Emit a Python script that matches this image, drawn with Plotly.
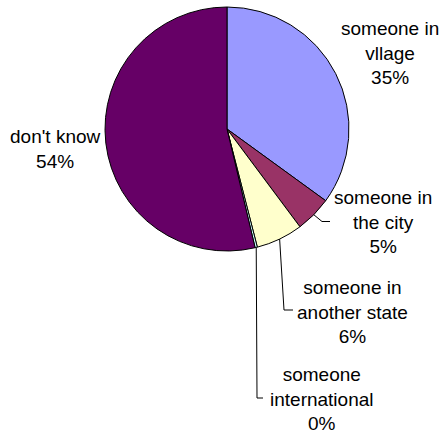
import math
import plotly.graph_objects as go

# Survey answers, in the order the slices run clockwise from 12 o'clock
categories = ["someone in<br>vllage", "someone in<br>the city", "someone in<br>another state",
              "someone<br>international", "don't know"]
shares = [35.0, 4.8, 6.2, 0.3, 53.7]
colors = ["#9999FF", "#993366", "#FFFFCC", "#CCFFFF", "#660066"]

W, H = 445, 434
CX, CY, R = 227, 129, 122  # pie centre and radius in pixels

# label block centres (px) and leader line elbow / end points (px); None = no leader
label_pos = [(390, 53), (383, 222), (352, 312), (322, 399), (55, 149)]
leaders = [None, [(322, 221.5), (330, 221.5)], [(284, 310), (293, 310)],
           [(257, 398), (263, 398)], None]


def px(x, y):
    return x / W, 1 - y / H


fig = go.Figure(go.Pie(
    values=shares,
    labels=categories,
    marker=dict(colors=colors, line=dict(color="black", width=1)),
    sort=False,
    direction="clockwise",
    rotation=0,
    textinfo="none",
    hoverinfo="label+percent",
    showlegend=False,
    domain=dict(x=[(CX - R) / W, (CX + R) / W], y=[1 - (CY + R) / H, 1 - (CY - R) / H]),
))

total = sum(shares)
annotations = []
shapes = []
start = 0.0
for name, v, (lx, ly), lead in zip(categories, shares, label_pos, leaders):
    pct = round(v / total * 100)
    ax, ay = px(lx, ly)
    annotations.append(dict(
        x=ax, y=ay, xref="paper", yref="paper", showarrow=False,
        text=f"{name}<br>{pct}%", align="center", xanchor="center", yanchor="middle",
        font=dict(family="Liberation Sans, Arial, sans-serif", size=19, color="black"),
    ))
    mid = (start + v / 2) / total * 2 * math.pi
    start += v
    if lead:
        ex, ey = CX + R * math.sin(mid), CY - R * math.cos(mid)
        pts = [(ex, ey)] + lead
        path = "M " + " L ".join(f"{px(x, y)[0]},{px(x, y)[1]}" for x, y in pts)
        shapes.append(dict(type="path", path=path, xref="paper", yref="paper",
                           line=dict(color="black", width=1)))

fig.update_layout(
    width=W, height=H,
    margin=dict(l=0, r=0, t=0, b=0),
    paper_bgcolor="white",
    plot_bgcolor="white",
    annotations=annotations,
    shapes=shapes,
)

fig.write_html("out.html")
